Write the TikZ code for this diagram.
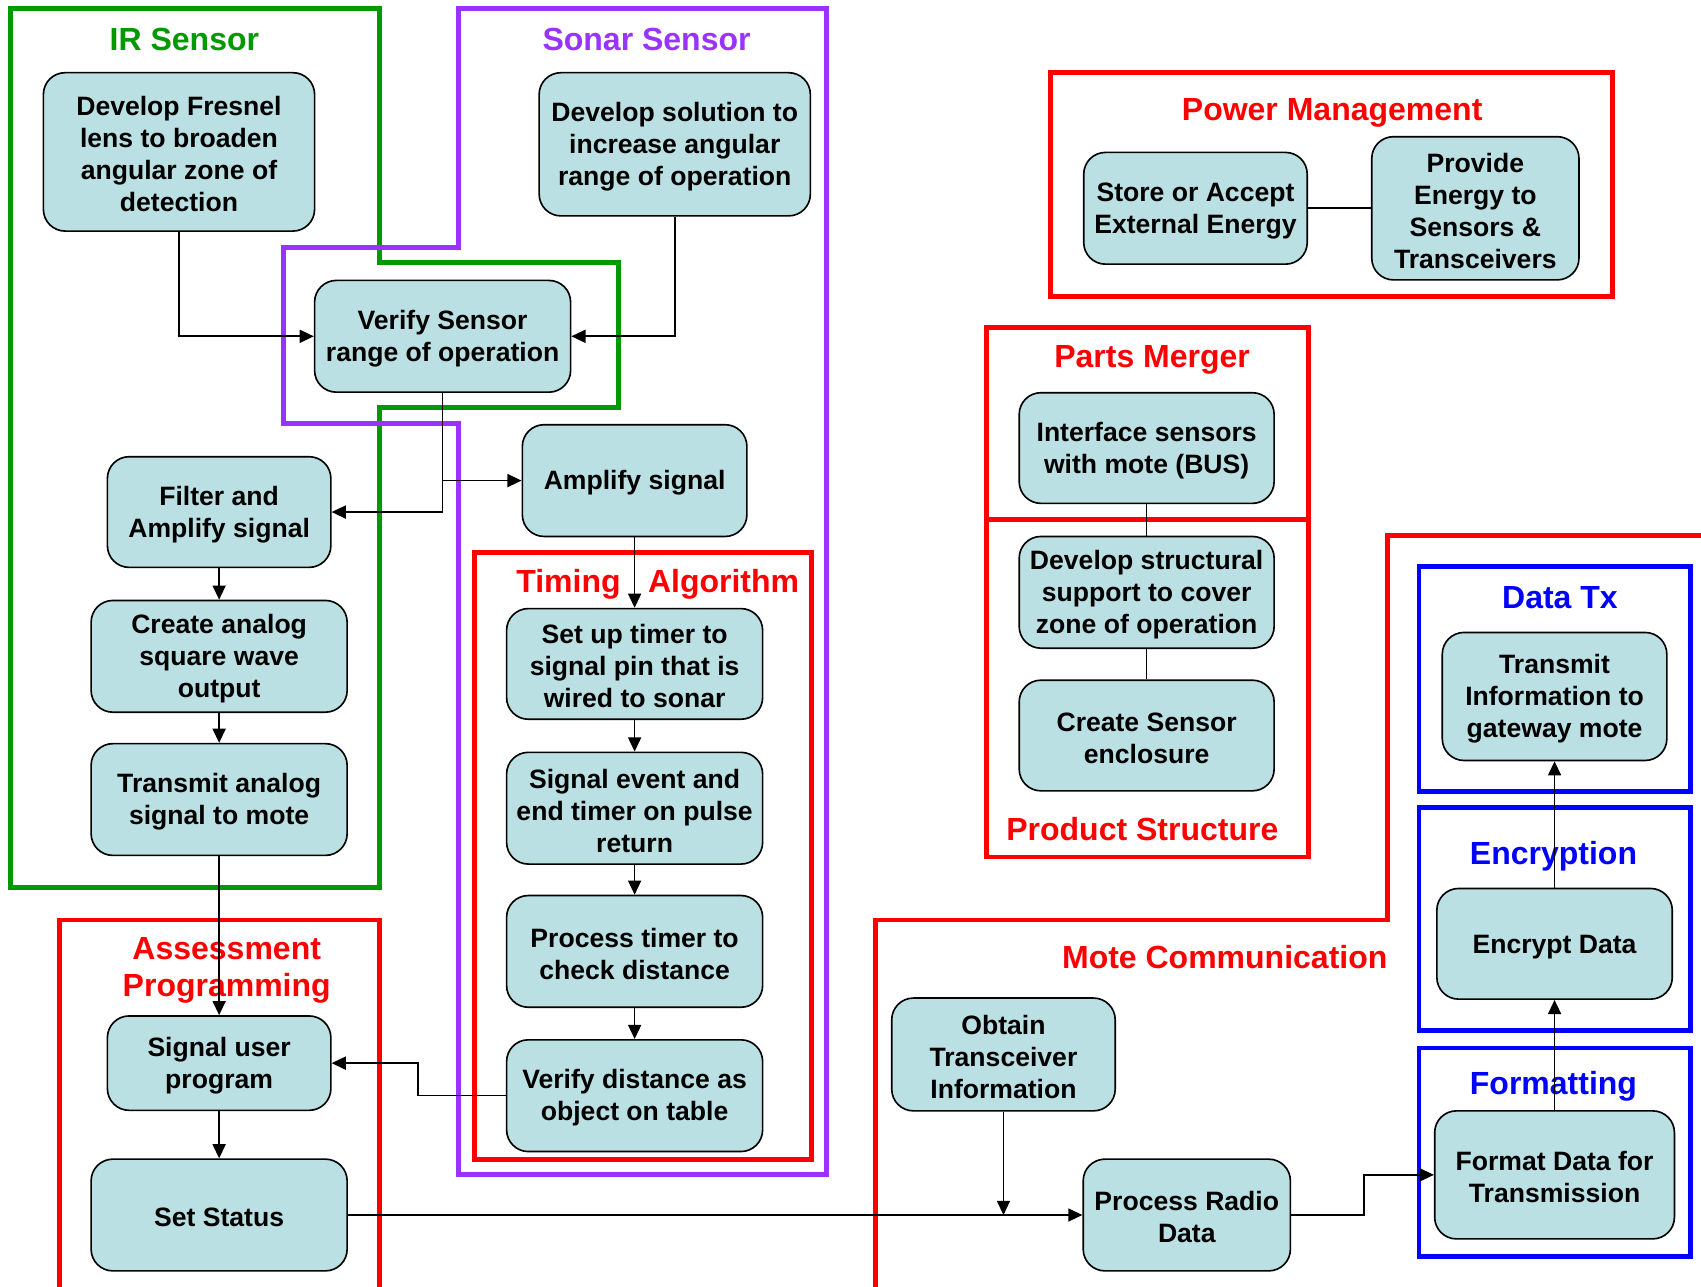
\documentclass[tikz,border=0pt]{standalone}
\usepackage{fontspec}
\setmainfont{Liberation Sans}
\usetikzlibrary{arrows.meta}
\definecolor{boxfill}{RGB}{187,224,227}
\definecolor{frgreen}{RGB}{0,153,0}
\definecolor{frpurple}{RGB}{153,51,255}
\definecolor{frred}{RGB}{255,0,0}
\definecolor{frblue}{RGB}{0,0,255}
\newcommand{\tstr}{\rule{0pt}{22.2pt}}
\begin{document}
\begin{tikzpicture}[x=1pt,y=-1pt,
  task/.style={draw=black, line width=1.5pt, fill=boxfill, rounded corners=20pt, align=center, inner sep=0pt, font=\fontsize{24.5}{29.5}\selectfont\bfseries},
  wh/.style 2 args={minimum width=#1pt, minimum height=#2pt},
  frame/.style={line width=4.5pt},
  ttl/.style={font=\fontsize{29.5}{34}\selectfont\bfseries, inner sep=0pt},
  conn/.style={line width=1.5pt, draw=black},
  arr/.style={conn, -{Triangle[length=13pt,width=12pt]}},
]
\useasboundingbox (0,0) rectangle (1568,1186);
\begin{scope}
\clip (0,0) rectangle (1568,1186);
% frames
\draw[frame, frgreen] (10,8) -- (350,8) -- (350,242) -- (570,242) -- (570,376) -- (350,376) -- (350,818) -- (10,818) -- cycle;
\draw[frame, frpurple] (423,8) -- (762,8) -- (762,1083) -- (423,1083) -- (423,390) -- (261,390) -- (261,228) -- (423,228) -- cycle;
\draw[frame, frred] (437,509) rectangle (748,1069);
\draw[frame, frred] (968,67) rectangle (1486,273);
\draw[frame, frred] (909,302) rectangle (1206,479);
\draw[frame, frred] (909,479) rectangle (1206,790);
\draw[frame, frred] (807,1200) -- (807,848) -- (1279,848) -- (1279,494) -- (1590,494);
\draw[frame, frred] (55,1200) -- (55,848) -- (350,848) -- (350,1200);
\draw[frame, frblue] (1308,522) rectangle (1558,730);
\draw[frame, frblue] (1308,744) rectangle (1558,950);
\draw[frame, frblue] (1308,966) rectangle (1558,1158);
\end{scope}
% titles
\node[ttl, text=frgreen] (tir) at (170,36) {IR Sensor};
\node[ttl, text=frpurple] (tsonar) at (596,36) {Sonar Sensor};
\node[ttl, text=frred] (ttiming) at (524,539) {Timing};
\node[ttl, text=frred] (talgo) at (667,539) {Algorithm};
\node[ttl, text=frred] (tpower) at (1228,104) {Power Management};
\node[ttl, text=frred] (tparts) at (1062,332) {Parts Merger};
\node[ttl, text=frred] (tprod) at (1053,764) {Product Structure};
\node[ttl, text=frred] (tmote) at (1129,882) {Mote Communication};
\node[ttl, text=frred] (tassess) at (209,874) {Assessment};
\node[ttl, text=frred] (tprog) at (209,911) {Programming};
\node[ttl, text=frblue] (tdatatx) at (1438,551) {Data Tx};
\node[ttl, text=frblue] (tencr) at (1432,789) {Encryption};
\node[ttl, text=frblue] (tform) at (1432,1001) {Formatting};
% nodes
\node[task, wh={250}{146}] (fresnel) at (165,140) {\tstr Develop Fresnel\\lens to broaden\\angular zone of\\detection};
\node[task, wh={250}{132}] (sonarsol) at (622,133) {\tstr Develop solution to\\increase angular\\range of operation};
\node[task, wh={236}{103}] (verify) at (408,310) {\tstr Verify Sensor\\range of operation};
\node[task, wh={207}{103}] (amplify) at (585,443) {\tstr Amplify signal};
\node[task, wh={206}{102}] (filter) at (202,472) {\tstr Filter and\\Amplify signal};
\node[task, wh={236}{103}] (analog) at (202,605) {\tstr Create analog\\square wave\\output};
\node[task, wh={236}{103}] (tanalog) at (202,737) {\tstr Transmit analog\\signal to mote};
\node[task, wh={236}{102}] (setup) at (585,612) {\tstr Set up timer to\\signal pin that is\\wired to sonar};
\node[task, wh={236}{103}] (sigevent) at (585,745) {\tstr Signal event and\\end timer on pulse\\return};
\node[task, wh={236}{103}] (proctimer) at (585,877) {\tstr Process timer to\\check distance};
\node[task, wh={236}{103}] (verdist) at (585,1010) {\tstr Verify distance as\\object on table};
\node[task, wh={206}{87}] (siguser) at (202,980) {\tstr Signal user\\program};
\node[task, wh={236}{103}] (setstatus) at (202,1120) {\tstr Set Status};
\node[task, wh={206}{103}] (store) at (1102,192) {\tstr Store or Accept\\External Energy};
\node[task, wh={191}{132}] (provide) at (1360,192) {\tstr Provide\\Energy to\\Sensors \&\\Transceivers};
\node[task, wh={235}{102}] (interface) at (1057,413) {\tstr Interface sensors\\with mote (BUS)};
\node[task, wh={235}{103}] (structural) at (1057,546) {\tstr Develop structural\\support to cover\\zone of operation};
\node[task, wh={235}{102}] (enclosure) at (1057,678) {\tstr Create Sensor\\enclosure};
\node[task, wh={207}{118}] (txinfo) at (1433,642) {\tstr Transmit\\Information to\\gateway mote};
\node[task, wh={217}{102}] (encrypt) at (1433,870) {\tstr Encrypt Data};
\node[task, wh={221}{118}] (format) at (1433,1083) {\tstr Format Data for\\Transmission};
\node[task, wh={206}{104}] (obtain) at (925,972) {\tstr Obtain\\Transceiver\\Information};
\node[task, wh={191}{103}] (radio) at (1094,1120) {\tstr Process Radio\\Data};
% connectors
\draw[arr] (fresnel.south) |- (verify.west);
\draw[arr] (sonarsol.south) |- (verify.east);
\draw[arr] (verify.south) |- (filter.east);
\draw[arr] (verify.south |- amplify.west) -- (amplify.west);
\draw[arr] (amplify) -- (setup);
\draw[arr] (filter) -- (analog);
\draw[arr] (analog) -- (tanalog);
\draw[arr] (tanalog) -- (siguser);
\draw[arr] (setup) -- (sigevent);
\draw[arr] (sigevent) -- (proctimer);
\draw[arr] (proctimer) -- (verdist);
\draw[arr] (verdist.west) -- ++(-81,0) |- (siguser.east);
\draw[arr] (siguser) -- (setstatus);
\draw[arr] (setstatus.east) -- (radio.west);
\draw[arr] (obtain.south) -- (obtain.south |- radio.west);
\draw[arr] (radio.east) -- ++(67,0) |- (format.west);
\draw[arr] (format) -- (encrypt);
\draw[arr] (encrypt) -- (txinfo);
\draw[conn] (store) -- (provide);
\draw[conn] (interface) -- (structural);
\draw[conn] (structural) -- (enclosure);
\end{tikzpicture}
\end{document}
